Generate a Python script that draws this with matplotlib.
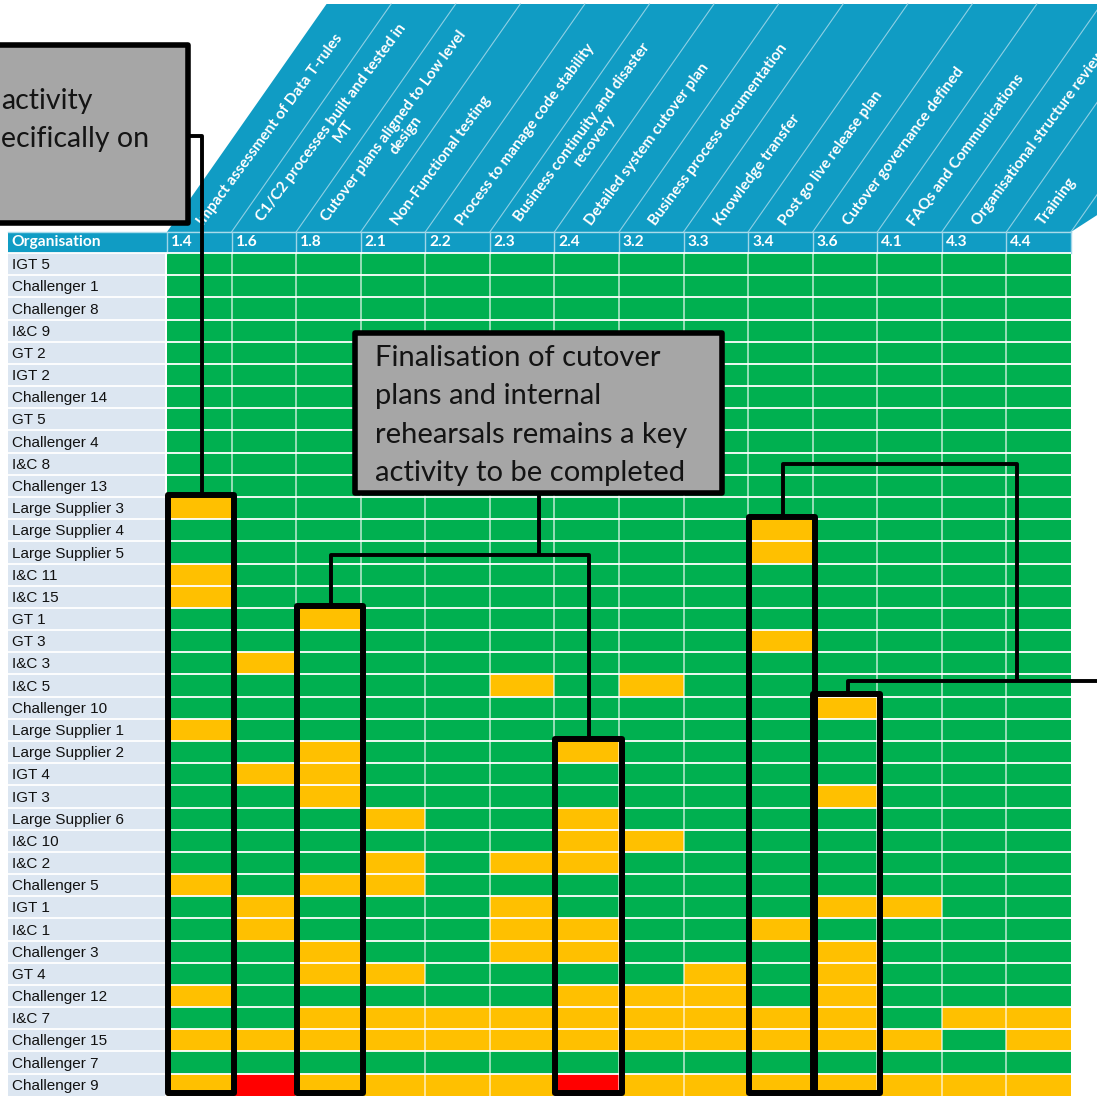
import matplotlib
matplotlib.use("Agg")
import matplotlib.pyplot as plt
import numpy as np
from matplotlib.colors import ListedColormap
from matplotlib.patches import Polygon, Rectangle

organisations = [
    "IGT 5", "Challenger 1", "Challenger 8", "I&C 9", "GT 2", "IGT 2",
    "Challenger 14", "GT 5", "Challenger 4", "I&C 8", "Challenger 13",
    "Large Supplier 3", "Large Supplier 4", "Large Supplier 5", "I&C 11",
    "I&C 15", "GT 1", "GT 3", "I&C 3", "I&C 5", "Challenger 10",
    "Large Supplier 1", "Large Supplier 2", "IGT 4", "IGT 3",
    "Large Supplier 6", "I&C 10", "I&C 2", "Challenger 5", "IGT 1",
    "I&C 1", "Challenger 3", "GT 4", "Challenger 12", "I&C 7",
    "Challenger 15", "Challenger 7", "Challenger 9",
]

activity_codes = ["1.4", "1.6", "1.8", "2.1", "2.2", "2.3", "2.4",
                  "3.2", "3.3", "3.4", "3.6", "4.1", "4.3", "4.4"]

activity_names = [
    "Impact assessment of Data T-rules",
    "C1/C2 processes built and tested in\nMT",
    "Cutover plans aligned to Low level\ndesign",
    "Non-Functional testing",
    "Process to manage code stability",
    "Business continuity and disaster\nrecovery",
    "Detailed system cutover plan",
    "Business process documentation",
    "Knowledge transfer",
    "Post go live release plan",
    "Cutover governance defined",
    "FAQs and Communications",
    "Organisational structure review",
    "Training",
]

# RAG status per organisation: one letter per activity (G green, A amber, R red)
rag_status = [
    "GGGGGGGGGGGGGG",  # IGT 5
    "GGGGGGGGGGGGGG",  # Challenger 1
    "GGGGGGGGGGGGGG",  # Challenger 8
    "GGGGGGGGGGGGGG",  # I&C 9
    "GGGGGGGGGGGGGG",  # GT 2
    "GGGGGGGGGGGGGG",  # IGT 2
    "GGGGGGGGGGGGGG",  # Challenger 14
    "GGGGGGGGGGGGGG",  # GT 5
    "GGGGGGGGGGGGGG",  # Challenger 4
    "GGGGGGGGGGGGGG",  # I&C 8
    "GGGGGGGGGGGGGG",  # Challenger 13
    "AGGGGGGGGGGGGG",  # Large Supplier 3
    "GGGGGGGGGAGGGG",  # Large Supplier 4
    "GGGGGGGGGAGGGG",  # Large Supplier 5
    "AGGGGGGGGGGGGG",  # I&C 11
    "AGGGGGGGGGGGGG",  # I&C 15
    "GGAGGGGGGGGGGG",  # GT 1
    "GGGGGGGGGAGGGG",  # GT 3
    "GAGGGGGGGGGGGG",  # I&C 3
    "GGGGGAGAGGGGGG",  # I&C 5
    "GGGGGGGGGGAGGG",  # Challenger 10
    "AGGGGGGGGGGGGG",  # Large Supplier 1
    "GGAGGGAGGGGGGG",  # Large Supplier 2
    "GAAGGGGGGGGGGG",  # IGT 4
    "GGAGGGGGGGAGGG",  # IGT 3
    "GGGAGGAGGGGGGG",  # Large Supplier 6
    "GGGGGGAAGGGGGG",  # I&C 10
    "GGGAGAAGGGGGGG",  # I&C 2
    "AGAAGGGGGGGGGG",  # Challenger 5
    "GAGGGAGGGGAAGG",  # IGT 1
    "GAGGGAAGGAGGGG",  # I&C 1
    "GGAGGAAGGGAGGG",  # Challenger 3
    "GGAAGGGGAGAGGG",  # GT 4
    "AGGGGGAAAGAGGG",  # Challenger 12
    "GGAAAAAAAAAGAA",  # I&C 7
    "AAAAAAAAAAAAGA",  # Challenger 15
    "GGGGGGGGGGGGGG",  # Challenger 7
    "ARAAAARAAAAAAA",  # Challenger 9
]

highlighted_codes = ["1.4", "1.8", "2.4", "3.4", "3.6"]

callout_lines = ["Finalisation of cutover", "plans and internal",
                 "rehearsals remains a key", "activity to be completed"]
side_note_lines = ["activity", "ecifically on"]

# ---------------------------------------------------------------- layout
W, H = 1097, 1096          # canvas in pixels
X0, Y0 = 167, 253          # top-left corner of the status grid
CW, RH = 64.57, 22.18      # cell width / height in pixels

GREEN, AMBER, RED = "#00b050", "#ffc000", "#ff0000"
BLUE = "#109cc4"
LABEL_BG = "#dce6f1"
GREY = "#a6a6a6"

n_rows, n_cols = len(organisations), len(activity_codes)
status = np.array([["GAR".index(ch) for ch in row] for row in rag_status])

fig = plt.figure(figsize=(W / 100, H / 100), dpi=100)
ax = fig.add_axes([0, 0, 1, 1])
ax.set_xlim(-X0 / CW, (W - X0) / CW)
ax.set_ylim((H - Y0) / RH, -Y0 / RH)
ax.axis("off")

label_left = (8 - X0) / CW
label_right = -0.03
head_bot = -0.95                  # top edge of the header row
band_top = (4 - Y0) / RH          # top edge of the slanted title band
slant = 0.70 * RH / CW            # horizontal shift per row of height

# slanted title band
band_h = head_bot - band_top
band = Polygon([(0, head_bot), (slant * band_h, band_top),
                (n_cols + slant * band_h + 3, band_top),
                (n_cols, head_bot)], closed=True, fc=BLUE, ec="none", zorder=1)
ax.add_patch(band)
for c in range(1, n_cols + 1):
    ax.plot([c, c + slant * band_h], [head_bot, band_top],
            color="#8fd0e4", lw=0.8, zorder=2)

for c, name in enumerate(activity_names):
    d = 0.35
    ax.text(c + 0.44 + slant * d, head_bot - d, name, rotation=53.5,
            rotation_mode="anchor", ha="left", va="center",
            multialignment="center", color="white", fontsize=11,
            fontweight="bold", family="Lato", linespacing=1.1, zorder=3)

# header row
ax.add_patch(Rectangle((label_left, head_bot), n_cols - label_left, -head_bot,
                       fc=BLUE, ec="none", zorder=1))
ax.plot([label_left, n_cols], [head_bot, head_bot], color="#a9dbeb", lw=1, zorder=2)
for c in range(0, n_cols + 1):
    ax.plot([c, c], [head_bot, 0], color="#9fd5e8", lw=1, zorder=2)
ax.text(label_left + 0.06, head_bot / 2, "Organisation", color="white",
        fontsize=11.2, fontweight="bold", family="Lato", va="center", zorder=3)
for c, code in enumerate(activity_codes):
    ax.text(c + 0.06, head_bot / 2, code, color="white", fontsize=11.2,
            fontweight="bold", family="Lato", va="center", zorder=3)

# organisation labels
ax.add_patch(Rectangle((label_left, 0), label_right - label_left, n_rows,
                       fc=LABEL_BG, ec="none", zorder=1))
for r, name in enumerate(organisations):
    ax.text(label_left + 0.06, r + 0.55, name, fontsize=11,
            family="Liberation Sans", va="center", color="#111111", zorder=3)

# status grid
cmap = ListedColormap([GREEN, AMBER, RED])
ax.pcolormesh(np.arange(n_cols + 1), np.arange(n_rows + 1), status,
              cmap=cmap, vmin=-0.5, vmax=2.5, zorder=1)
ax.hlines(np.arange(0, n_rows), label_left, n_cols, color="white", lw=1.3, zorder=2)
ax.vlines(np.arange(1, n_cols), 0, n_rows, color=(1, 1, 1, 0.75), lw=1.1, zorder=2)

# highlighted activity columns, outlined from their first non-green row
box_bottom = n_rows - 0.13
first_row = {}
for code in highlighted_codes:
    c = activity_codes.index(code)
    r0 = int(np.argmax(status[:, c] != 0))
    first_row[code] = r0
    ax.add_patch(Rectangle((c + 0.01, r0 - 0.1), 1.03, box_bottom - r0 + 0.1,
                           fill=False, ec="black", lw=4.3, joinstyle="round",
                           zorder=6))


def centre(code):
    return activity_codes.index(code) + 0.54


line_kw = dict(color="black", lw=2.8, solid_joinstyle="round",
               solid_capstyle="butt", zorder=6)

# side note (top left) and its connector
ax.add_patch(Rectangle((-3.5, -9.38), 3.5 + 0.325, 8.03, fc=GREY, ec="black",
                       lw=4.0, joinstyle="round", zorder=7))
for i, line in enumerate(side_note_lines):
    ax.text(-2.575, (109 - Y0) / RH + i * 38.5 / RH, line, fontsize=20.5,
            family="Lato", va="baseline", ha="left", color="#141414", zorder=8)
ax.plot([0.325, centre("1.4"), centre("1.4")],
        [(136 - Y0) / RH, (136 - Y0) / RH, first_row["1.4"] - 0.1], **line_kw)

# central callout and its connectors
bx0, bx1, by0, by1 = 2.91, 8.595, 3.6, 10.82
ax.add_patch(Rectangle((bx0, by0), bx1 - bx0, by1 - by0, fc=GREY, ec="black",
                       lw=4.0, joinstyle="round", zorder=7))
for i, line in enumerate(callout_lines):
    ax.text(3.22, (366 - Y0) / RH + i * 38.3 / RH, line, fontsize=21,
            family="Lato", va="baseline", ha="left", color="#141414", zorder=8)
mid_y = (555 - Y0) / RH
ax.plot([5.76, 5.76], [by1, mid_y], **line_kw)
ax.plot([centre("1.8"), centre("1.8"), centre("2.4"), centre("2.4")],
        [first_row["1.8"] - 0.1, mid_y, mid_y, first_row["2.4"] - 0.1], **line_kw)

# connectors leading off to the right
right_x = (W - X0) / CW
up_y, low_y = (464 - Y0) / RH, (681 - Y0) / RH
ax.plot([right_x, centre("3.6"), centre("3.6")],
        [low_y, low_y, first_row["3.6"] - 0.1], **line_kw)
ax.plot([13.16, 13.16, centre("3.4"), centre("3.4")],
        [low_y, up_y, up_y, first_row["3.4"] - 0.1], **line_kw)

fig.savefig("out.png", dpi=100)
